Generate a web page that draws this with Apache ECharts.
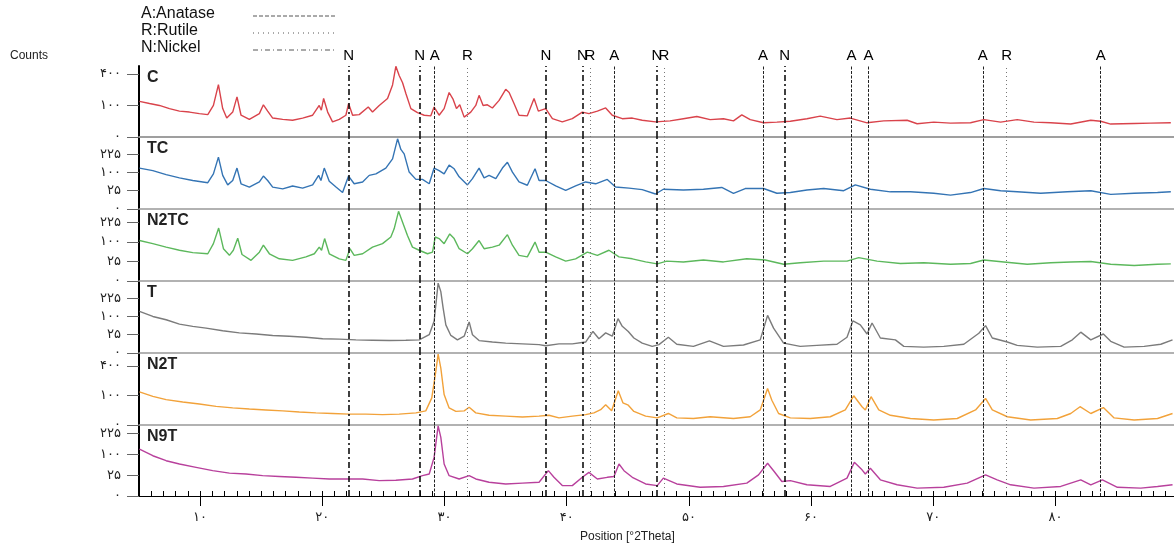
<!DOCTYPE html>
<html>
<head>
<meta charset="utf-8">
<title>XRD patterns</title>
<script src="https://cdn.jsdelivr.net/npm/echarts@6/dist/echarts.min.js"></script>
<style>
html, body { margin: 0; padding: 0; background: #fff; overflow: hidden; }
#chart { width: 1174px; height: 550px; }
</style>
</head>
<body>
<div id="chart"></div>
<script>
// panel names (top to bottom) and colours
var panelNames = ['C', 'TC', 'N2TC', 'T', 'N2T', 'N9T'];
var panelColors = ['#d9434b', '#3474b4', '#5cb85c', '#7b7b7b', '#f2a23a', '#b8409c'];

// intensity on a square-root scale: [2theta, sqrt(counts)]
var cData = [[5.04,11.3],[5.86,10.6],[6.67,10.0],[7.49,9.0],[8.31,8.2],[9.13,7.9],[9.94,7.4],[10.63,7.1],[11.09,10.0],[11.50,16.6],[11.85,9.0],[12.18,6.0],[12.67,7.9],[13.02,12.7],[13.35,6.9],[14.03,5.6],[14.85,7.4],[15.18,10.2],[15.53,8.2],[15.94,6.0],[16.76,5.6],[17.57,5.3],[18.39,6.0],[19.21,6.9],[19.75,10.0],[19.92,8.5],[20.11,12.2],[20.44,7.9],[20.84,4.8],[21.39,5.6],[21.93,6.9],[22.15,10.6],[22.48,6.9],[23.02,7.1],[23.76,9.5],[24.11,7.9],[24.66,10.0],[25.34,12.2],[25.75,16.5],[26.02,22.4],[26.29,19.5],[26.57,17.2],[26.84,13.8],[27.25,9.0],[27.79,7.7],[28.34,6.9],[28.88,6.7],[29.15,9.5],[29.56,6.9],[29.97,9.0],[30.38,14.1],[30.71,11.9],[30.98,9.0],[31.25,10.2],[31.61,6.3],[32.15,7.9],[32.56,10.0],[32.83,13.2],[33.16,10.0],[33.51,10.2],[33.92,9.2],[34.47,11.6],[35.01,15.1],[35.29,14.1],[35.69,10.6],[36.10,6.9],[36.78,6.7],[37.33,12.2],[37.68,8.2],[38.28,9.0],[38.83,5.8],[39.64,4.8],[40.46,5.8],[41.28,7.9],[41.82,7.4],[42.51,8.2],[43.19,9.2],[43.73,6.9],[44.55,5.8],[45.37,6.0],[46.18,5.3],[47.27,4.8],
  [48.46,5.1],[49.55,5.8],[50.65,6.5],[51.74,5.5],[52.83,5.8],[53.65,5.1],[54.33,7.0],[55.02,5.5],[56.11,4.5],[57.20,4.7],[58.30,5.0],[59.66,5.8],[60.75,6.6],[62.12,5.5],[63.21,6.0],[64.58,4.5],[65.95,5.1],[67.86,5.3],[68.68,4.2],[70.04,4.7],[71.41,4.4],[73.05,4.5],[74.14,5.5],[75.51,4.7],[76.87,5.5],[78.24,4.7],[79.61,4.5],[81.25,4.1],[82.89,5.3],[83.70,5.0],[84.52,4.1],[86.44,4.3],[87.80,4.4],[89.44,4.5]];

var tcData = [[5.04,11.2],[6.13,10.5],[7.22,9.4],[8.31,8.5],[9.40,7.8],[10.63,7.2],[11.09,9.6],[11.50,14.2],[11.85,9.2],[12.26,6.6],[12.67,7.8],[13.02,11.2],[13.35,6.9],[14.03,6.0],[14.85,7.4],[15.18,9.0],[15.53,7.8],[15.94,6.0],[16.76,5.5],[17.57,6.3],[18.39,5.7],[19.21,6.6],[19.70,9.2],[19.89,7.8],[20.16,11.2],[20.57,7.6],[21.12,6.0],[21.66,4.5],[22.15,9.0],[22.61,6.9],[23.30,7.4],[23.84,9.2],[24.39,9.6],[25.20,11.2],[25.75,13.7],[26.16,19.2],[26.43,16.3],[26.70,15.1],[27.11,10.1],[27.66,8.1],[28.20,8.1],[28.75,6.9],[29.15,11.2],[29.56,10.5],[29.97,9.6],[30.38,12.0],[30.79,11.0],[31.20,8.8],[31.88,6.6],[32.29,8.3],[32.83,11.2],[33.24,8.5],[33.65,9.2],[34.20,8.3],[34.74,11.2],[35.15,12.8],[35.56,10.1],[36.10,7.4],[36.78,6.5],[37.41,11.0],[37.74,7.8],[38.28,7.8],[39.10,6.3],[39.92,5.1],[40.73,6.3],[41.55,7.4],[42.37,6.9],[43.32,8.1],[44.00,6.0],[45.10,5.7],[46.18,5.3],[47.27,4.1],
  [47.91,5.4],[49.55,5.2],[51.19,5.4],[52.69,5.9],[53.65,4.3],[54.61,5.6],[56.11,5.6],[57.20,4.3],[58.30,4.5],[59.66,5.2],[61.03,5.6],[62.67,5.0],[63.62,6.6],[64.85,5.4],[66.49,4.7],[68.13,4.7],[70.04,4.3],[71.41,3.8],[73.05,4.5],[74.14,5.6],[75.51,5.0],[76.87,4.7],[78.79,4.3],[80.97,4.7],[82.89,5.0],[84.52,4.0],[86.44,4.3],[88.35,4.5],[89.44,4.7]];

var n2tcData = [[5.04,10.4],[6.13,9.6],[7.22,8.7],[8.31,7.9],[9.40,7.3],[10.63,7.0],[11.09,9.6],[11.52,13.6],[11.91,8.3],[12.40,6.6],[12.72,7.9],[13.08,11.0],[13.43,6.8],[14.17,5.3],[14.85,7.4],[15.18,9.2],[15.67,7.0],[16.48,5.7],[17.57,5.3],[18.66,6.2],[19.35,7.0],[19.75,8.7],[19.94,7.9],[20.19,10.9],[20.57,7.0],[21.39,5.7],[21.93,5.3],[22.26,8.3],[22.61,6.6],[23.30,7.0],[24.11,8.7],[24.93,9.6],[25.61,11.3],[25.88,13.4],[26.24,17.9],[26.57,15.1],[26.97,11.7],[27.38,8.7],[27.93,7.9],[28.61,7.0],[29.02,7.4],[29.24,11.3],[29.56,10.9],[29.97,9.6],[30.43,12.1],[30.79,10.9],[31.20,8.3],[31.88,7.0],[32.29,8.3],[32.83,10.4],[33.24,8.3],[33.92,8.7],[34.47,9.2],[35.15,11.9],[35.56,9.2],[36.10,6.6],[36.78,6.2],[37.41,10.0],[37.74,7.4],[38.28,7.4],[39.10,6.2],[39.92,5.1],[40.73,5.7],[41.69,7.4],[42.51,6.6],[43.46,7.9],[44.28,6.2],[45.37,5.7],[46.46,4.9],[47.41,4.4],
  [48.19,5.1],[49.55,4.9],[51.19,5.4],[52.83,4.9],[54.74,5.7],[56.25,5.4],[57.75,4.3],[59.11,4.7],[61.03,5.1],[62.94,5.1],[63.90,6.0],[65.40,5.1],[67.31,4.5],[69.22,4.7],[71.41,4.3],[73.05,4.5],[74.14,5.4],[75.78,4.9],[77.69,4.3],[79.61,4.7],[81.25,4.9],[82.89,5.0],[84.52,4.3],[86.44,4.0],[88.35,4.3],[89.44,4.4]];

var tData = [[5.04,11.4],[6.13,10.0],[7.22,9.1],[8.31,7.9],[9.40,7.3],[10.49,6.8],[11.85,6.1],[13.21,5.5],[14.58,5.2],[15.94,4.8],[17.30,4.6],[18.66,4.3],[20.03,3.9],[21.39,3.8],[22.75,3.6],[24.11,3.5],[25.48,3.4],[26.84,3.5],[27.93,3.6],[28.75,5.0],[29.15,8.7],[29.48,19.1],[29.70,16.8],[29.89,12.3],[30.11,7.7],[30.52,4.8],[31.06,3.6],[31.61,4.6],[32.02,8.5],[32.29,5.0],[32.83,3.4],[33.92,3.0],[35.01,2.7],[36.38,2.5],[37.74,2.3],[38.28,2.0],[39.37,2.5],[40.46,2.5],[41.55,3.0],[42.15,5.9],[42.64,3.9],[43.19,5.5],[43.73,4.6],[44.20,9.4],[44.55,7.3],[45.04,5.9],[45.50,4.1],[46.18,2.7],[47.00,1.8],[47.55,2.3],
  [48.32,4.3],[49.01,2.4],[50.37,1.8],[51.68,3.3],[52.83,1.8],[54.47,2.2],[55.84,3.6],[56.44,10.3],[56.93,6.8],[57.75,2.7],[59.11,1.8],[60.48,2.1],[62.12,2.4],[62.94,4.3],[63.43,8.8],[64.03,7.7],[64.58,5.2],[64.99,8.2],[65.67,4.1],[66.90,3.6],[67.59,1.8],[69.22,1.6],[70.86,1.8],[72.50,2.4],[73.73,5.4],[74.28,7.5],[74.83,4.1],[76.06,3.0],[76.87,2.1],[78.51,1.6],[80.43,1.8],[81.38,3.6],[82.07,5.7],[82.89,3.6],[83.92,5.2],[84.52,3.2],[85.62,1.6],[87.26,1.8],[88.62,2.4],[89.58,3.6]];

var n2tData = [[5.04,11.2],[6.13,9.7],[7.22,8.6],[8.58,7.8],[9.94,7.1],[11.31,6.3],[12.67,5.8],[14.03,5.4],[15.39,5.1],[16.76,4.8],[18.12,4.4],[19.48,4.1],[20.84,3.9],[22.21,3.7],[23.57,3.7],[24.93,3.5],[26.29,3.7],[27.66,4.1],[28.47,4.8],[28.96,9.2],[29.29,18.2],[29.48,24.0],[29.70,19.3],[29.97,10.3],[30.38,5.8],[30.93,4.6],[31.61,4.8],[32.02,6.0],[32.56,4.1],[33.65,3.3],[35.01,3.0],[36.38,2.7],[37.74,3.0],[38.55,3.3],[39.37,2.4],[40.46,3.0],[41.55,3.5],[42.23,4.1],[42.78,5.2],[43.19,6.9],[43.68,4.8],[44.22,11.6],[44.60,7.5],[45.04,6.7],[45.50,4.6],[46.46,3.0],[47.41,2.4],
  [48.32,3.9],[49.01,2.4],[50.37,2.2],[51.74,2.8],[53.65,2.2],[55.02,2.8],[55.84,5.1],[56.44,12.4],[56.79,8.4],[57.34,3.9],[58.30,2.4],[59.93,2.2],[61.57,2.8],[62.80,5.1],[63.49,9.9],[64.17,6.2],[64.44,5.1],[64.91,9.6],[65.54,5.1],[66.49,3.3],[68.13,2.2],[70.04,1.7],[71.96,2.2],[73.46,5.1],[74.28,9.0],[74.83,5.1],[76.06,2.8],[77.97,1.7],[80.15,2.2],[81.25,3.9],[82.01,6.2],[82.89,3.9],[83.92,5.9],[84.80,2.4],[86.44,1.7],[88.35,2.2],[89.58,3.9]];

var n9tData = [[5.04,11.3],[6.13,9.7],[7.22,8.5],[8.31,7.7],[9.67,6.9],[11.03,6.1],[12.40,5.5],[13.76,5.3],[15.12,4.9],[16.48,4.7],[17.85,4.5],[19.21,4.3],[20.57,4.1],[21.93,4.1],[23.30,4.1],[24.66,3.7],[26.02,3.8],[27.38,4.1],[28.20,4.9],[28.75,5.3],[29.15,9.3],[29.48,16.9],[29.70,14.1],[29.97,7.7],[30.38,4.9],[31.20,4.1],[32.02,4.9],[32.56,4.1],[33.65,3.3],[35.01,2.9],[36.38,3.1],[37.74,3.3],[38.50,6.1],[38.96,4.5],[39.64,2.5],[40.46,2.5],[41.28,4.5],[41.82,5.7],[42.51,4.1],[43.32,4.5],[43.87,4.7],[44.28,7.7],[44.69,6.1],[45.37,4.5],[46.46,2.9],[47.41,2.5],
  [47.91,4.3],[49.01,2.9],[50.92,2.1],[52.83,2.3],[54.74,3.1],[55.70,5.1],[56.44,7.9],[56.98,5.9],[57.61,3.5],[58.30,3.7],[59.66,2.7],[61.57,2.3],[62.94,4.3],[63.54,8.1],[64.17,6.3],[64.44,5.3],[64.85,6.7],[65.67,3.9],[67.04,2.7],[68.68,1.9],[70.86,2.1],[72.78,3.1],[74.28,5.1],[75.23,3.9],[76.33,2.7],[78.24,1.9],[80.43,2.3],[82.07,3.9],[82.89,2.7],[83.84,3.9],[85.07,2.1],[86.98,1.9],[88.35,2.3],[89.58,2.7]];

var panelData = [cData, tcData, n2tcData, tData, n2tData, n9tData];

// reference peak positions (2theta) and phase letters
var markerPos = [22.15, 27.96, 29.2, 31.88, 38.3, 41.28, 41.9, 43.9, 47.39, 47.95, 56.06, 57.83, 63.3, 64.69, 74.05, 76.01, 83.7];
var markerType = ['N', 'N', 'A', 'R', 'N', 'N', 'R', 'A', 'N', 'R', 'A', 'N', 'A', 'A', 'A', 'R', 'A'];

// y ticks (sqrt units) and their labels (counts)
var yTickValues = [[0, 10, 20], [0, 5, 10, 15], [0, 5, 10, 15], [0, 5, 10, 15], [0, 10, 20], [0, 5, 10, 15]];
var yTickLabels = [
  ['۰', '۱۰۰', '۴۰۰'],
  ['۰', '۲۵', '۱۰۰', '۲۲۵'],
  ['۰', '۲۵', '۱۰۰', '۲۲۵'],
  ['۰', '۲۵', '۱۰۰', '۲۲۵'],
  ['۰', '۱۰۰', '۴۰۰'],
  ['۰', '۲۵', '۱۰۰', '۲۲۵']
];
var yMax = [22.5, 19.7, 18.5, 19.7, 24.4, 17.1];

// x ticks
var xTickValues = [10, 20, 30, 40, 50, 60, 70, 80];
var xTickLabels = ['۱۰', '۲۰', '۳۰', '۴۰', '۵۰', '۶۰', '۷۰', '۸۰'];
var xMin = 5, xMax = 89.7;

var legendNames = ['A:Anatase', 'R:Rutile', 'N:Nickel'];

var panelTops = [66, 137, 209, 281, 353, 425];
var plotBottom = 496;
var LEFT = 139;
var TXT = "'Liberation Sans', Arial, sans-serif";
var DIGITS = "'DejaVu Sans', sans-serif";

var markStyles = {
  A: { color: '#222', width: 1, type: [3, 1.5] },
  R: { color: '#777', width: 1, type: [1, 3] },
  N: { color: '#111', width: 1.6, type: [6, 3, 2, 3] }
};

var chart = echarts.init(document.getElementById('chart'), null, { renderer: 'canvas' });

var minorTicks = [];
for (var t = 5; t <= 89; t++) minorTicks.push(t);

var grids = [], xAxes = [], yAxes = [], series = [], graphics = [];

panelNames.forEach(function (name, i) {
  var top = panelTops[i];
  var bottom = i < 5 ? panelTops[i + 1] : plotBottom;
  var last = i === 5;
  grids.push({ left: LEFT, right: 0, top: top, height: bottom - top });

  xAxes.push({
    gridIndex: i, type: 'value', min: xMin, max: xMax,
    axisLine: { show: true, onZero: false, lineStyle: { color: last ? '#000' : '#999', width: last ? 1.2 : 1.5 } },
    axisTick: last ? { show: true, length: 10, lineStyle: { color: '#000' }, customValues: xTickValues } : { show: false },
    axisLabel: last ? {
      show: true, margin: 15, customValues: xTickValues,
      fontFamily: DIGITS, fontSize: 13, color: '#222',
      formatter: function (v) { var k = xTickValues.indexOf(v); return k >= 0 ? xTickLabels[k] : ''; }
    } : { show: false },
    splitLine: { show: false }
  });

  var ticks = yTickValues[i], labels = yTickLabels[i];
  yAxes.push({
    gridIndex: i, type: 'value', min: 0, max: yMax[i],
    axisLine: { show: true, lineStyle: { color: '#000', width: 2 } },
    axisTick: { show: true, length: 12, lineStyle: { color: '#666' }, customValues: ticks },
    axisLabel: {
      show: true, margin: 18, customValues: ticks,
      fontFamily: DIGITS, fontSize: 13, color: '#222',
      formatter: function (v) { var k = ticks.indexOf(v); return k >= 0 ? labels[k] : ''; }
    },
    splitLine: { show: false }
  });

  series.push({
    name: name, type: 'line', xAxisIndex: i, yAxisIndex: i,
    data: panelData[i], showSymbol: false, animation: false,
    lineStyle: { color: panelColors[i], width: 1.4 },
    markLine: {
      silent: true, symbol: 'none', animation: false,
      data: markerPos.map(function (p, k) {
        var ty = markerType[k];
        return {
          xAxis: p,
          lineStyle: markStyles[ty],
          label: i === 0 ? { show: true, position: 'end', formatter: ty, color: '#000', fontSize: 15, fontFamily: TXT, distance: 3 } : { show: false }
        };
      })
    }
  });

  graphics.push({
    type: 'text', left: LEFT + 8, top: top + 4,
    style: { text: name, font: 'bold 16px ' + TXT, fill: '#222' }
  });
});

// top border of the first panel
xAxes.push({
  gridIndex: 0, type: 'value', position: 'top', min: xMin, max: xMax,
  axisLine: { show: true, lineStyle: { color: '#999', width: 1.5 } },
  axisTick: { show: false }, axisLabel: { show: false }, splitLine: { show: false }
});
// minor ticks on the 2theta axis
xAxes.push({
  gridIndex: 5, type: 'value', min: xMin, max: xMax,
  axisLine: { show: false },
  axisTick: { show: true, length: 5, lineStyle: { color: '#000' }, customValues: minorTicks },
  axisLabel: { show: false }, splitLine: { show: false }
});

// legend of reference line styles
legendNames.forEach(function (txt, k) {
  var ty = txt.charAt(0);
  var y = 15 + k * 17;
  graphics.push({ type: 'text', left: 141, top: y - 9, style: { text: txt, font: '16px ' + TXT, fill: '#111' } });
  graphics.push({
    type: 'line', shape: { x1: 253, y1: y + 1, x2: 335, y2: y + 1 },
    style: { stroke: '#555', lineWidth: 1, lineDash: ty === 'A' ? [4, 2] : (ty === 'R' ? [1, 4] : [5, 3, 1, 3]) }
  });
});

graphics.push({ type: 'text', left: 10, top: 50, style: { text: 'Counts', font: '12px ' + TXT, fill: '#222' } });
graphics.push({ type: 'text', left: 580, top: 531, style: { text: 'Position [°2Theta]', font: '12px ' + TXT, fill: '#222' } });

chart.setOption({
  animation: false,
  backgroundColor: '#fff',
  grid: grids,
  xAxis: xAxes,
  yAxis: yAxes,
  series: series,
  graphic: graphics
});

window.addEventListener('resize', function () { chart.resize(); });
</script>
</body>
</html>
